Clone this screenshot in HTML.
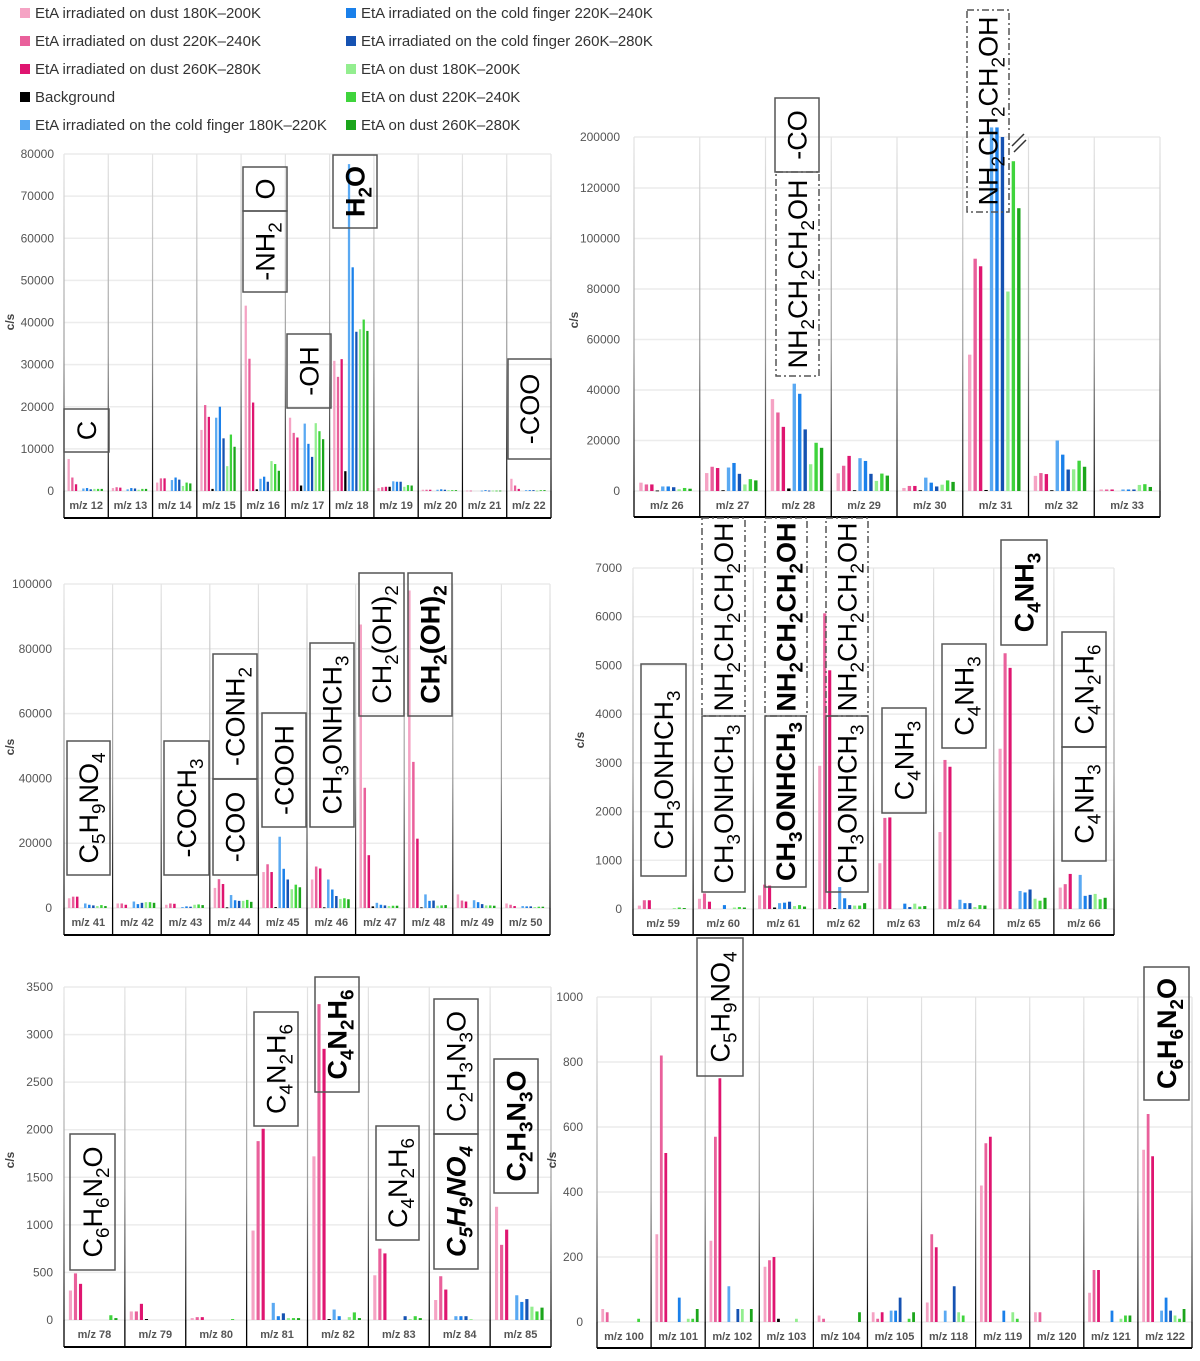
<!DOCTYPE html>
<html><head><meta charset="utf-8"><style>
html,body{margin:0;padding:0;background:#fff;}
svg{display:block;font-family:"Liberation Sans",sans-serif;}
</style></head><body>
<svg id="fig" width="1200" height="1361" viewBox="0 0 1200 1361" xmlns="http://www.w3.org/2000/svg">
<defs>
<linearGradient id="sepGrad" x1="0" y1="0" x2="0" y2="1">
<stop offset="0" stop-color="#e4e4e4"/><stop offset="0.6" stop-color="#999"/><stop offset="1" stop-color="#000"/>
</linearGradient>
</defs>
<g id="legend"></g>
<g id="plots"></g>
<g id="notes"></g>
</svg>
<script>
// ---------- data ----------
const seriesNames = ["EtA irradiated on dust 180K–200K","EtA irradiated on dust 220K–240K","EtA irradiated on dust 260K–280K","Background","EtA irradiated on the cold finger 180K–220K","EtA irradiated on the cold finger 220K–240K","EtA irradiated on the cold finger 260K–280K","EtA on dust 180K–200K","EtA on dust 220K–240K","EtA on dust 260K–280K"];
const seriesColors = ["#f5a3c4","#e9609b","#df1570","#000000","#5aa9f2","#1a80ea","#1552b2","#93ee8f","#3fd43c","#1ba51b"];

// Panel 1 (m/z 12-22)
const p1Cats = ["m/z 12","m/z 13","m/z 14","m/z 15","m/z 16","m/z 17","m/z 18","m/z 19","m/z 20","m/z 21","m/z 22"];
const p1Ticks = [0,10000,20000,30000,40000,50000,60000,70000,80000];
const p1S0 = [7600,700,2000,14500,44000,17400,30900,700,300,100,2900];
const p1S1 = [3200,900,3000,20400,31400,13800,27100,900,300,100,1300];
const p1S2 = [1600,800,3000,17600,21000,12700,31300,1000,300,0,500];
const p1S3 = [0,0,0,500,400,1300,4700,1000,0,0,0];
const p1S4 = [600,400,2600,17400,2900,16000,77600,2300,300,100,200];
const p1S5 = [700,700,3200,20000,3400,11200,53100,2200,400,200,200];
const p1S6 = [400,600,2700,12500,2200,8100,37800,2200,300,100,200];
const p1S7 = [500,300,1200,5900,7100,16100,38400,1000,200,100,100];
const p1S8 = [500,500,2000,13400,6400,14200,40700,1400,200,100,200];
const p1S9 = [500,500,1800,10500,4800,12300,38000,1300,200,100,200];

// Panel 2 (m/z 26-33), broken axis
const p2Cats = ["m/z 26","m/z 27","m/z 28","m/z 29","m/z 30","m/z 31","m/z 32","m/z 33"];
const p2Ticks = [0,20000,40000,60000,80000,100000,120000,200000];
const p2S0 = [3300,7100,36400,7000,1200,54000,6000,600];
const p2S1 = [2600,9600,31100,10000,2000,92000,7100,600];
const p2S2 = [2600,9100,25400,13900,2000,89000,6700,600];
const p2S3 = [200,300,1000,300,300,400,300,0];
const p2S4 = [1800,9300,42500,13000,5300,215000,20000,600];
const p2S5 = [1800,11100,38500,11900,3300,215000,14400,600];
const p2S6 = [1500,6800,24400,6800,1800,200000,8500,600];
const p2S7 = [700,2600,10600,4000,2500,79000,8600,2400];
const p2S8 = [1200,4700,19100,6900,4200,162000,12000,2700];
const p2S9 = [900,4200,17100,6100,3600,112000,9600,1600];

// Panel 3 (m/z 41-50)
const p3Cats = ["m/z 41","m/z 42","m/z 43","m/z 44","m/z 45","m/z 46","m/z 47","m/z 48","m/z 49","m/z 50"];
const p3Ticks = [0,20000,40000,60000,80000,100000];
const p3S0 = [3000,1400,1000,6200,11100,8800,87500,98000,4200,1400];
const p3S1 = [3500,1400,1400,8900,13500,12800,37100,45100,2300,1000];
const p3S2 = [3500,1000,1300,7400,11100,12200,16300,21400,2000,600];
const p3S3 = [0,0,0,200,300,200,500,200,0,0];
const p3S4 = [1400,2000,300,4000,22000,8800,1600,4200,2400,600];
const p3S5 = [1000,1200,500,2400,12100,5700,1000,2200,1800,500];
const p3S6 = [800,1600,400,2200,8800,3700,800,2300,1200,500];
const p3S7 = [600,1800,1000,2200,5800,2800,600,700,800,300];
const p3S8 = [900,1800,1100,2500,7200,3000,700,800,800,400];
const p3S9 = [600,1600,900,1900,6400,2700,700,900,700,400];

// Panel 4 (m/z 59-66)
const p4Cats = ["m/z 59","m/z 60","m/z 61","m/z 62","m/z 63","m/z 64","m/z 65","m/z 66"];
const p4Ticks = [0,1000,2000,3000,4000,5000,6000,7000];
const p4S0 = [70,210,280,2940,940,1580,3290,440];
const p4S1 = [180,320,500,6070,1870,3060,5250,510];
const p4S2 = [180,150,480,4900,1880,2920,4950,720];
const p4S3 = [0,0,30,20,0,0,0,0];
const p4S4 = [0,0,120,450,0,190,370,700];
const p4S5 = [0,80,130,220,110,120,340,270];
const p4S6 = [0,0,150,80,40,120,400,290];
const p4S7 = [20,30,60,70,110,40,210,310];
const p4S8 = [30,40,80,70,50,80,170,200];
const p4S9 = [20,30,50,120,60,70,230,230];

// Panel 5 (m/z 78-85)
const p5Cats = ["m/z 78","m/z 79","m/z 80","m/z 81","m/z 82","m/z 83","m/z 84","m/z 85"];
const p5Ticks = [0,500,1000,1500,2000,2500,3000,3500];
const p5S0 = [310,90,20,940,1720,470,210,1190];
const p5S1 = [490,90,30,1880,3320,750,460,790];
const p5S2 = [380,170,30,2010,2850,700,320,950];
const p5S3 = [0,10,0,0,10,0,0,0];
const p5S4 = [0,0,0,180,110,0,40,260];
const p5S5 = [0,0,0,40,40,0,40,190];
const p5S6 = [0,0,0,70,0,40,40,220];
const p5S7 = [0,0,0,20,30,10,10,140];
const p5S8 = [50,0,10,20,80,40,0,90];
const p5S9 = [20,0,0,20,20,20,0,130];

// Panel 6 (m/z 100-122)
const p6Cats = ["m/z 100","m/z 101","m/z 102","m/z 103","m/z 104","m/z 105","m/z 118","m/z 119","m/z 120","m/z 121","m/z 122"];
const p6Ticks = [0,200,400,600,800,1000];
const p6S0 = [40,270,250,170,20,30,60,420,30,90,530];
const p6S1 = [30,820,570,190,10,10,270,550,30,160,640];
const p6S2 = [0,520,750,200,0,30,230,570,0,160,510];
const p6S3 = [0,0,0,10,0,0,0,0,0,0,0];
const p6S4 = [0,0,110,0,0,35,35,0,0,0,35];
const p6S5 = [0,75,0,0,0,35,0,35,0,35,75];
const p6S6 = [0,0,40,0,0,75,110,0,0,0,35];
const p6S7 = [0,10,40,10,0,0,30,30,0,10,20];
const p6S8 = [10,10,0,0,0,10,20,10,0,20,10];
const p6S9 = [0,40,40,0,30,30,0,0,0,20,40];

// ---------- drawing ----------
const NS = "http://www.w3.org/2000/svg";
function mk(tag, attrs, parent){ const e=document.createElementNS(NS,tag); for(const k in attrs) e.setAttribute(k,attrs[k]); if(parent) parent.appendChild(e); return e; }

function linScale(y0,yTop,vmax){ return v => y0 - v*(y0-yTop)/vmax; }
function brokenScale(v){ // panel 2: 0-120000 linear, 120000-200000 compressed
  const y0=491, y120=188, y200=137;
  if (v<=120000) return y0 - v*(y0-y120)/120000;
  return y120 - (v-120000)*(y120-y200)/80000;
}

const panels = [
 {id:"p1",cats:p1Cats,ticks:p1Ticks,series:[p1S0,p1S1,p1S2,p1S3,p1S4,p1S5,p1S6,p1S7,p1S8,p1S9],x0:64,x1:551,y0:491,yTop:154,lab:518,tickR:54,cs:[14,322],scale:linScale(491,154,80000)},
 {id:"p2",cats:p2Cats,ticks:p2Ticks,series:[p2S0,p2S1,p2S2,p2S3,p2S4,p2S5,p2S6,p2S7,p2S8,p2S9],x0:634,x1:1160,y0:491,yTop:137,lab:517,tickR:620,cs:[578,320],scale:brokenScale},
 {id:"p3",cats:p3Cats,ticks:p3Ticks,series:[p3S0,p3S1,p3S2,p3S3,p3S4,p3S5,p3S6,p3S7,p3S8,p3S9],x0:64,x1:550,y0:908,yTop:584,lab:935,tickR:52,cs:[14,747],scale:linScale(908,584,100000)},
 {id:"p4",cats:p4Cats,ticks:p4Ticks,series:[p4S0,p4S1,p4S2,p4S3,p4S4,p4S5,p4S6,p4S7,p4S8,p4S9],x0:633,x1:1114,y0:909,yTop:568,lab:935,tickR:622,cs:[584,740],scale:linScale(909,568,7000)},
 {id:"p5",cats:p5Cats,ticks:p5Ticks,series:[p5S0,p5S1,p5S2,p5S3,p5S4,p5S5,p5S6,p5S7,p5S8,p5S9],x0:64,x1:551,y0:1320,yTop:987,lab:1347,tickR:53,cs:[14,1160],scale:linScale(1320,987,3500)},
 {id:"p6",cats:p6Cats,ticks:p6Ticks,series:[p6S0,p6S1,p6S2,p6S3,p6S4,p6S5,p6S6,p6S7,p6S8,p6S9],x0:597,x1:1192,y0:1322,yTop:997,lab:1348,tickR:583,cs:[556,1160],scale:linScale(1322,997,1000)}
];

const plots = document.getElementById("plots");
panels.forEach(p => {
  const g = mk("g",{},plots);
  
  
  const n = p.cats.length, W = (p.x1-p.x0)/n;
  // gridlines + tick labels
  p.ticks.forEach(t => {
    const y = p.scale(t);
    const gl = mk("line",{x1:p.x0,x2:p.x1,y1:y,y2:y,stroke:"#ececec","stroke-width":1.5},g);
    
    
    const tl = mk("text",{x:p.tickR,y:y+4,"text-anchor":"end","font-size":12,fill:"#555"},g);
    tl.textContent = t;
    
    
  });
  // y axis title
  const yt = mk("text",{x:p.cs[0],y:p.cs[1],"text-anchor":"middle","font-size":12,"font-weight":"bold",fill:"#444",transform:`rotate(-90 ${p.cs[0]} ${p.cs[1]})`},g);
  yt.textContent = "c/s";
  
  
  // separators
  for (let i=0;i<=n;i++){
    const x = p.x0 + i*W;
    const sep = mk("rect",{x:x-0.6,y:p.yTop,width:1.2,height:p.y0-p.yTop,fill:"url(#sepGrad)"},g);
    
    
    const ls = mk("line",{x1:x,x2:x,y1:p.y0,y2:p.lab,stroke:"#000","stroke-width":1.3},g);
    
    
  }
  const bl = mk("line",{x1:p.x0,x2:p.x1,y1:p.lab,y2:p.lab,stroke:"#000","stroke-width":2},g);
  
  
  // bars
  const slot = W*0.083, bw = Math.max(1.6, slot*0.62);
  p.cats.forEach((c,ci) => {
    const gx = p.x0 + ci*W;
    p.series.forEach((s,si) => {
      const v = s[ci]; if (!v) return;
      const yTopBar = p.scale(v);
      const bx = gx + W*0.08 + si*slot;
      const r = mk("rect",{x:bx,y:yTopBar,width:bw,height:Math.max(0.8,p.y0-yTopBar),fill:seriesColors[si]},g);
      
      
    });
    const cl = mk("text",{x:gx+W/2,y:p.y0+18,"text-anchor":"middle","font-size":11,"font-weight":"bold",fill:"#555"},g);
    cl.textContent = c;
    
    
  });
});
// axis break marks on panel 2
const brk = mk("path",{d:"M1012,146 L1024,134 M1014,152 L1026,140",stroke:"#333","stroke-width":1.5,fill:"none"},plots);



// legend
const legend = document.getElementById("legend");
const legPos = [[20,13],[20,41],[20,69],[20,125],[346,13],[346,41],[346,69],[346,97],[346,125]];
const legOrder = [0,1,2,4,5,6,7,8,9];
const allLeg = [[0,20,13],[1,20,41],[2,20,69],[3,20,97],[4,20,125],[5,346,13],[6,346,41],[7,346,69],[8,346,97],[9,346,125]];
allLeg.forEach(([si,x,y]) => {
  const eg = mk("g",{},legend);
  
  
  mk("rect",{x:x,y:y-5,width:10,height:10,fill:seriesColors[si]},eg);
  const t = mk("text",{x:x+15,y:y+5,"font-size":15,fill:"#333"},eg);
  t.textContent = seriesNames[si];
});

// annotation boxes: [x1,x2,y1,y2,text,bold,style]
const notes = document.getElementById("notes");
const boxes = [
 [64,109,409,452,"C",0,"s"],[243,287,167,211,"O",0,"s"],[243,287,211,292,"-NH2",0,"s"],[287,331,334,408,"-OH",0,"s"],[333,377,155,228,"H2O",1,"s"],[508,551,359,459,"-COO",0,"s"],
 [775,819,98,172,"-CO",0,"s"],[776,819,172,376,"NH2CH2CH2OH",0,"d"],[967,1009,10,212,"NH2CH2CH2OH",0,"d"],
 [67,110,741,875,"C5H9NO4",0,"s"],[164,209,741,875,"-COCH3",0,"s"],[213,257,654,779,"-CONH2",0,"s"],[213,257,779,875,"-COO",0,"s"],[262,306,713,827,"-COOH",0,"s"],[310,354,643,827,"CH3ONHCH3",0,"s"],[359,404,573,716,"CH2(OH)2",0,"s"],[408,452,573,716,"CH2(OH)2",1,"s"],
 [641,686,664,876,"CH3ONHCH3",0,"s"],[702,745,518,716,"NH2CH2CH2OH",0,"d"],[702,745,716,892,"CH3ONHCH3",0,"s"],[765,807,518,716,"NH2CH2CH2OH",1,"d"],[765,806,716,887,"CH3ONHCH3",1,"s"],[826,868,518,716,"NH2CH2CH2OH",0,"d"],[826,868,716,892,"CH3ONHCH3",0,"s"],
 [882,926,708,813,"C4NH3",0,"s"],[942,986,644,748,"C4NH3",0,"s"],[1001,1047,540,645,"C4NH3",1,"s"],[1062,1106,632,747,"C4N2H6",0,"s"],[1062,1106,747,861,"C4NH3",0,"s"],
 [70,115,1134,1270,"C6H6N2O",0,"s"],[254,298,1012,1126,"C4N2H6",0,"s"],[315,359,977,1092,"C4N2H6",1,"s"],[376,419,1126,1240,"C4N2H6",0,"s"],[434,478,999,1134,"C2H3N3O",0,"s"],[434,478,1134,1269,"C5H9NO4",2,"s"],[494,538,1059,1193,"C2H3N3O",1,"s"],
 [697,743,938,1076,"C5H9NO4",0,"s"],[1144,1189,967,1100,"C6H6N2O",1,"s"]
];
boxes.forEach(([xa,xb,ya,yb,txt,bold,st]) => {
  const g = mk("g",{},notes);
  
  
  const r = mk("rect",{x:xa,y:ya,width:xb-xa,height:yb-ya,fill:"none",stroke:"#555","stroke-width":1.5},g);
  if (st==="d") r.setAttribute("stroke-dasharray","7,3,2,3");
  const cx=(xa+xb)/2, cy=(ya+yb)/2;
  const fs = 27;
  const t = mk("text",{x:cx,y:cy+fs*0.36,"text-anchor":"middle","font-size":fs,fill:"#000",transform:`rotate(-90 ${cx} ${cy})`},g);
  if (bold) t.setAttribute("font-weight","bold");
  if (bold===2) t.setAttribute("font-style","italic");
  let sub=false;
  for (const ch of txt){
    const isD = /[0-9]/.test(ch);
    const ts = mk("tspan",{},t);
    if (isD && !sub){ ts.setAttribute("dy","7"); ts.setAttribute("font-size",fs*0.7); sub=true; }
    else if (isD && sub){ ts.setAttribute("font-size",fs*0.7); }
    else if (!isD && sub){ ts.setAttribute("dy","-7"); sub=false; }
    ts.textContent = ch;
  }
});
</script>
</body></html>
